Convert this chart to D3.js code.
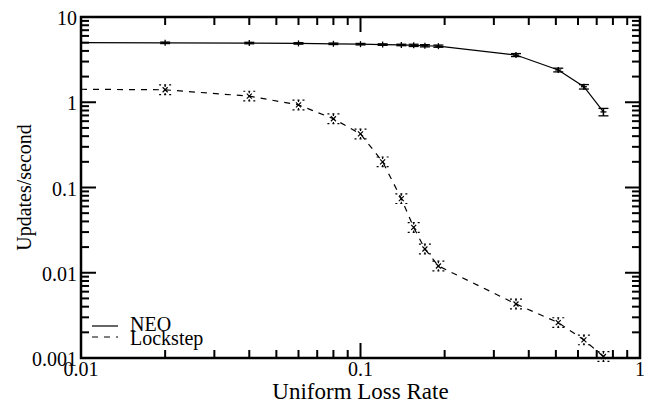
<!DOCTYPE html>
<html>
<head>
<meta charset="utf-8">
<script src="https://cdn.jsdelivr.net/npm/d3@7"></script>
<style>
  body { margin: 0; background: #fff; }
  svg { display: block; }
</style>
</head>
<body>
<div id="chart"></div>
<script>
// loss rates (x) and update rates (y)
const lossRates = [0.01, 0.02, 0.04, 0.06, 0.08, 0.1, 0.12, 0.14, 0.155, 0.17, 0.19, 0.36, 0.51, 0.63, 0.74]
const neoRates = [5.0, 4.98, 4.95, 4.9, 4.85, 4.8, 4.75, 4.7, 4.65, 4.6, 4.55, 3.58, 2.39, 1.52, 0.77]
const neoErr = [0, 0.02, 0.02, 0.02, 0.02, 0.02, 0.02, 0.02, 0.03, 0.03, 0.03, 0.04, 0.05, 0.06, 0.1]
const lockRates = [1.42, 1.4, 1.18, 0.93, 0.64, 0.425, 0.2, 0.074, 0.034, 0.019, 0.012, 0.0043, 0.0026, 0.00163, 0.00104]
const lockErr = [0, 0.14, 0.14, 0.14, 0.14, 0.14, 0.14, 0.14, 0.14, 0.14, 0.14, 0.14, 0.14, 0.14, 0.14]

const xTicks = [0.01, 0.1, 1]
const yTicks = [0.001, 0.01, 0.1, 1, 10]
const legendItems = [
  { name: "NEO", dash: null },
  { name: "Lockstep", dash: "6,6" }
]

const width = 648
const height = 405
const margin = { top: 17, right: 8, bottom: 47, left: 81 }
const fontSize = 20

const svg = d3.select("#chart").append("svg")
  .attr("width", width)
  .attr("height", height)
  .attr("font-family", "'Liberation Serif', 'Times New Roman', serif")

const x = d3.scaleLog().domain([0.01, 1]).range([margin.left, width - margin.right])
const y = d3.scaleLog().domain([0.001, 10]).range([height - margin.bottom, margin.top])

const x0 = x.range()[0], x1 = x.range()[1]
const y0 = y.range()[0], y1 = y.range()[1]

// minor + major ticks on all four sides, pointing inward
const xMinor = x.ticks(20)
const yMinor = y.ticks(40)
const isMajor = v => Math.abs(Math.log10(v) - Math.round(Math.log10(v))) < 1e-6

const ticks = svg.append("g").attr("stroke", "#000").attr("stroke-width", 2)
xMinor.forEach(v => {
  const len = isMajor(v) ? 15 : 8
  ticks.append("line").attr("x1", x(v)).attr("x2", x(v)).attr("y1", y0).attr("y2", y0 - len)
  ticks.append("line").attr("x1", x(v)).attr("x2", x(v)).attr("y1", y1).attr("y2", y1 + len)
})
yMinor.forEach(v => {
  const len = isMajor(v) ? 15 : 8
  ticks.append("line").attr("y1", y(v)).attr("y2", y(v)).attr("x1", x0).attr("x2", x0 + len)
  ticks.append("line").attr("y1", y(v)).attr("y2", y(v)).attr("x1", x1).attr("x2", x1 - len)
})

svg.append("rect")
  .attr("x", x0).attr("y", y1)
  .attr("width", x1 - x0).attr("height", y0 - y1)
  .attr("fill", "none").attr("stroke", "#000").attr("stroke-width", 2.5)

// tick labels
svg.append("g")
  .attr("font-size", fontSize)
  .attr("text-anchor", "middle")
  .selectAll("text")
  .data(xTicks)
  .join("text")
    .attr("x", d => x(d))
    .attr("y", y0 + 18)
    .text(d => d3.format("~g")(d))

svg.append("g")
  .attr("font-size", fontSize)
  .attr("text-anchor", "end")
  .selectAll("text")
  .data(yTicks)
  .join("text")
    .attr("x", x0 - 4)
    .attr("y", d => y(d) + 8)
    .text(d => d3.format("~g")(d))

// axis titles
svg.append("text")
  .attr("x", (x0 + x1) / 2)
  .attr("y", height - 6)
  .attr("text-anchor", "middle")
  .attr("font-size", 23)
  .text("Uniform Loss Rate")

svg.append("text")
  .attr("transform", `translate(31,${(y0 + y1) / 2}) rotate(-90)`)
  .attr("text-anchor", "middle")
  .attr("font-size", fontSize)
  .text("Updates/second")

const line = d3.line().x(d => x(d[0])).y(d => y(d[1]))

const neo = lossRates.map((v, i) => [v, neoRates[i], neoErr[i]])
const lock = lossRates.map((v, i) => [v, lockRates[i], lockErr[i]])

svg.append("path")
  .datum(neo)
  .attr("d", line)
  .attr("fill", "none")
  .attr("stroke", "#000")
  .attr("stroke-width", 1.2)

svg.append("path")
  .datum(lock)
  .attr("d", line)
  .attr("fill", "none")
  .attr("stroke", "#000")
  .attr("stroke-width", 1.2)
  .attr("stroke-dasharray", "6,6")

// NEO markers: "+" with solid error bars
const neoG = svg.append("g").attr("stroke", "#000").attr("stroke-width", 1.3)
neo.slice(1).forEach(([lx, ly, e]) => {
  const cx = x(lx), cy = y(ly)
  const top = y(ly * (1 + e)), bot = y(ly * (1 - e))
  neoG.append("line").attr("x1", cx - 3).attr("x2", cx + 3).attr("y1", cy).attr("y2", cy)
  neoG.append("line").attr("x1", cx).attr("x2", cx).attr("y1", cy - 3).attr("y2", cy + 3)
  neoG.append("line").attr("x1", cx).attr("x2", cx).attr("y1", top).attr("y2", bot)
  neoG.append("line").attr("x1", cx - 5).attr("x2", cx + 5).attr("y1", top).attr("y2", top)
  neoG.append("line").attr("x1", cx - 5).attr("x2", cx + 5).attr("y1", bot).attr("y2", bot)
})

// Lockstep markers: "x" with dashed error caps
const lockG = svg.append("g").attr("stroke", "#000").attr("stroke-width", 1.2)
lock.slice(1).forEach(([lx, ly, e]) => {
  const cx = x(lx), cy = y(ly)
  const top = y(ly * (1 + e)), bot = y(ly / (1 + e))
  lockG.append("line").attr("x1", cx - 2.5).attr("x2", cx + 2.5).attr("y1", cy - 2.5).attr("y2", cy + 2.5)
  lockG.append("line").attr("x1", cx - 2.5).attr("x2", cx + 2.5).attr("y1", cy + 2.5).attr("y2", cy - 2.5)
  lockG.append("line").attr("x1", cx).attr("x2", cx).attr("y1", top).attr("y2", bot)
    .attr("stroke-dasharray", "2,2")
  lockG.append("line").attr("x1", cx - 6).attr("x2", cx + 6).attr("y1", top).attr("y2", top)
    .attr("stroke-dasharray", "2,3")
  lockG.append("line").attr("x1", cx - 6).attr("x2", cx + 6).attr("y1", bot).attr("y2", bot)
    .attr("stroke-dasharray", "2,3")
})

// legend
const legend = svg.append("g").attr("font-size", fontSize)
legendItems.forEach((d, i) => {
  const ly = 326 + i * 11
  legend.append("line")
    .attr("x1", 92).attr("x2", 118)
    .attr("y1", ly).attr("y2", ly)
    .attr("stroke", "#000").attr("stroke-width", 1.2)
    .attr("stroke-dasharray", d.dash)
  legend.append("text")
    .attr("x", 130).attr("y", 331 + i * 14)
    .text(d.name)
})
</script>
</body>
</html>
